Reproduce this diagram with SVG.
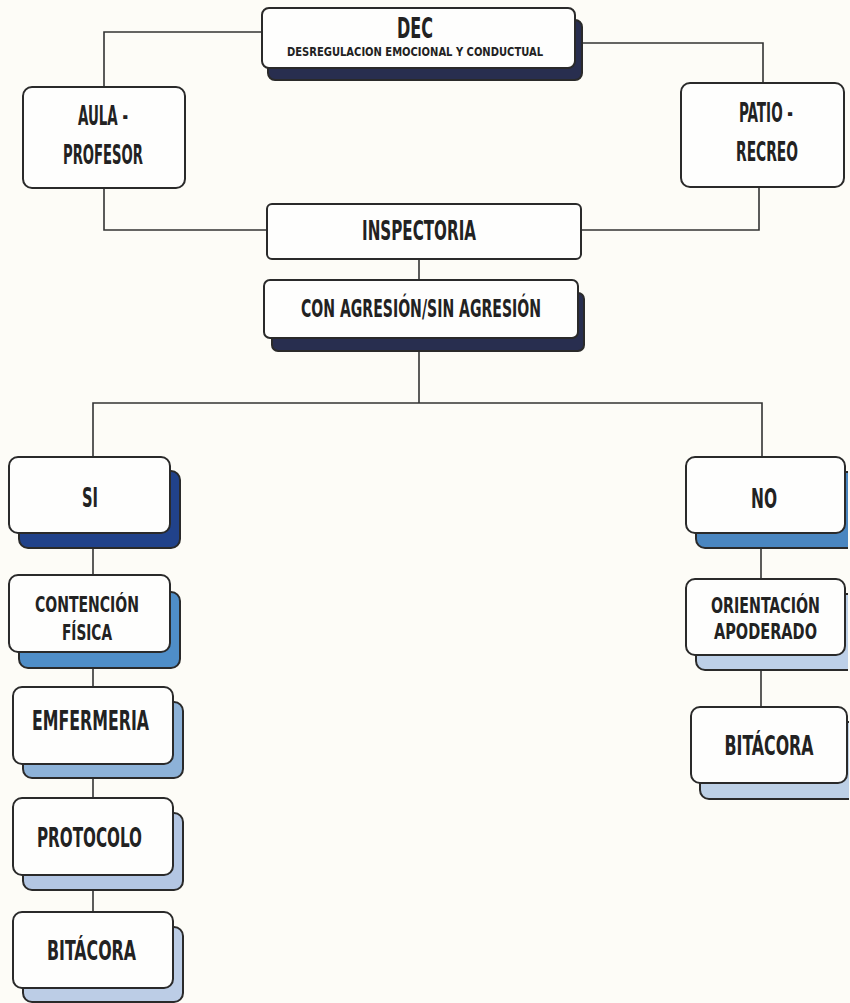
<svg xmlns="http://www.w3.org/2000/svg" width="850" height="1003" viewBox="0 0 850 1003">
<style>
.box{fill:#fefefd;stroke:#2a2a2a;stroke-width:2}
.sh{stroke:#2a2a2a;stroke-width:2}
.t{font-family:"DejaVu Sans Condensed","DejaVu Sans",sans-serif;font-stretch:condensed;font-weight:bold;fill:#222;font-size:26px}
.s{font-size:22px}
.c{fill:none;stroke:#333;stroke-width:1.6}
</style>
<rect width="850" height="1003" fill="#fdfcf7"/>
<g id="connectors">
<polyline class="c" points="262,32 104,32 104,87"/>
<polyline class="c" points="582,43 763,43 763,83"/>
<polyline class="c" points="104,188 104,230 267,230"/>
<polyline class="c" points="759,187 759,230 581,230"/>
<line class="c" x1="419" y1="259" x2="419" y2="280"/>
<line class="c" x1="419" y1="351" x2="419" y2="403"/>
<polyline class="c" points="93,457 93,403 762,403 762,457"/>
<line class="c" x1="93" y1="548" x2="93" y2="575"/>
<line class="c" x1="93" y1="668" x2="93" y2="687"/>
<line class="c" x1="93" y1="778" x2="93" y2="798"/>
<line class="c" x1="93" y1="890" x2="93" y2="912"/>
<line class="c" x1="761" y1="548" x2="761" y2="579"/>
<line class="c" x1="761" y1="670" x2="761" y2="707"/>
</g>
<g id="dec">
<rect class="sh" x="268" y="20" width="314" height="60" rx="7" fill="#282e4f"/>
<rect class="box" x="262" y="8" width="313" height="60" rx="7"/>
<text class="t" text-anchor="middle" x="415" y="38" textLength="36" lengthAdjust="spacingAndGlyphs" style="font-size:29px">DEC</text>
<text class="t" text-anchor="middle" x="415" y="56" textLength="256" lengthAdjust="spacingAndGlyphs" style="font-size:12px">DESREGULACION EMOCIONAL Y CONDUCTUAL</text>
</g>
<g id="aula">
<rect class="box" x="23" y="87" width="162" height="101" rx="9"/>
<text class="t" text-anchor="middle" x="103" y="125" textLength="50" lengthAdjust="spacingAndGlyphs">AULA -</text>
<text class="t" text-anchor="middle" x="103" y="164" textLength="80" lengthAdjust="spacingAndGlyphs">PROFESOR</text>
</g>
<g id="patio">
<rect class="box" x="681" y="83" width="163" height="104" rx="9"/>
<text class="t" text-anchor="middle" x="766" y="122" textLength="54" lengthAdjust="spacingAndGlyphs">PATIO -</text>
<text class="t" text-anchor="middle" x="767" y="161" textLength="62" lengthAdjust="spacingAndGlyphs">RECREO</text>
</g>
<g id="inspectoria">
<rect class="box" x="267" y="204" width="314" height="55" rx="5"/>
<text class="t" text-anchor="middle" x="419" y="240" textLength="114" lengthAdjust="spacingAndGlyphs">INSPECTORIA</text>
</g>
<g id="agresion">
<rect class="sh" x="272" y="293" width="312" height="58" rx="6" fill="#282e4f"/>
<rect class="box" x="264" y="280" width="314" height="58" rx="6"/>
<text class="t" text-anchor="middle" x="421" y="317" textLength="240" lengthAdjust="spacingAndGlyphs" style="font-size:24px">CON AGRESIÓN/SIN AGRESIÓN</text>
</g>
<g id="si">
<rect class="sh" x="19" y="471" width="161" height="77" rx="9" fill="#21428a"/>
<rect class="box" x="9" y="457" width="161" height="76" rx="9"/>
<text class="t" text-anchor="middle" x="90" y="507" textLength="16" lengthAdjust="spacingAndGlyphs">SI</text>
</g>
<g id="contencion">
<rect class="sh" x="19" y="592" width="161" height="76" rx="9" fill="#4f8ec8"/>
<rect class="box" x="9" y="575" width="161" height="77" rx="9"/>
<text class="t s" text-anchor="middle" x="87" y="612" textLength="104" lengthAdjust="spacingAndGlyphs">CONTENCIÓN</text>
<text class="t s" text-anchor="middle" x="87" y="640" textLength="50" lengthAdjust="spacingAndGlyphs">FÍSICA</text>
</g>
<g id="emfermeria">
<rect class="sh" x="23" y="702" width="160" height="76" rx="9" fill="#8db2d8"/>
<rect class="box" x="13" y="687" width="160" height="77" rx="9"/>
<text class="t" text-anchor="middle" x="90.5" y="730" textLength="117" lengthAdjust="spacingAndGlyphs">EMFERMERIA</text>
</g>
<g id="protocolo">
<rect class="sh" x="23" y="813" width="160" height="77" rx="9" fill="#b3c6e3"/>
<rect class="box" x="13" y="798" width="160" height="77" rx="9"/>
<text class="t" text-anchor="middle" x="89.5" y="847" textLength="105" lengthAdjust="spacingAndGlyphs">PROTOCOLO</text>
</g>
<g id="bitacora-si">
<rect class="sh" x="23" y="927" width="160" height="75" rx="9" fill="#bccde6"/>
<rect class="box" x="13" y="912" width="160" height="76" rx="9"/>
<text class="t" text-anchor="middle" x="91.5" y="960" textLength="89" lengthAdjust="spacingAndGlyphs">BITÁCORA</text>
</g>
<g id="no">
<path class="sh" d="M848,472 H705 a9,9 0 0 0 -9,9 V539 a9,9 0 0 0 9,9 H848" fill="#4a86c0"/>
<rect class="box" x="686" y="457" width="159" height="76" rx="9"/>
<text class="t" text-anchor="middle" x="764" y="508" textLength="26" lengthAdjust="spacingAndGlyphs">NO</text>
</g>
<g id="orientacion">
<path class="sh" d="M848,594 H705 a9,9 0 0 0 -9,9 V661 a9,9 0 0 0 9,9 H848" fill="#bdd0e8"/>
<rect class="box" x="686" y="579" width="159" height="76" rx="9"/>
<text class="t s" text-anchor="middle" x="765.5" y="613" textLength="109" lengthAdjust="spacingAndGlyphs">ORIENTACIÓN</text>
<text class="t s" text-anchor="middle" x="765.5" y="639" textLength="103" lengthAdjust="spacingAndGlyphs">APODERADO</text>
</g>
<g id="bitacora-no">
<path class="sh" d="M849,722 H709 a9,9 0 0 0 -9,9 V790 a9,9 0 0 0 9,9 H849" fill="#bdd0e6"/>
<rect class="box" x="691" y="707" width="156" height="76" rx="9"/>
<text class="t" text-anchor="middle" x="769" y="755" textLength="89" lengthAdjust="spacingAndGlyphs">BITÁCORA</text>
</g>
</svg>
